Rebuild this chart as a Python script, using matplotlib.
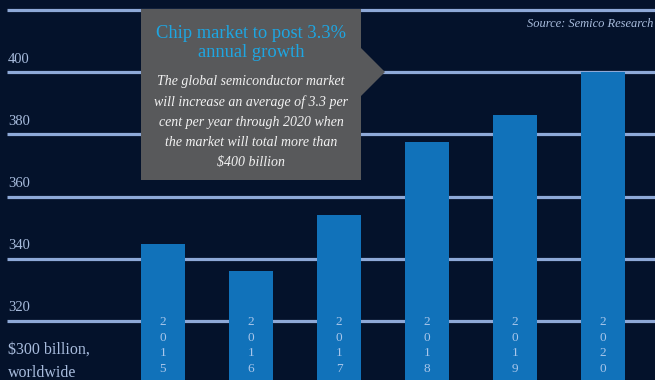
import matplotlib
matplotlib.use("Agg")
import matplotlib.pyplot as plt
from matplotlib.patches import Polygon

years = ["2015", "2016", "2017", "2018", "2019", "2020"]
market = [344.7, 336.0, 354.0, 377.5, 386.2, 400.1]  # $ billion
grid_levels = [320, 340, 360, 380, 400, 420]
tick_labels = ["320", "340", "360", "380", "400"]

bg = "#04122b"
bar_col = "#1172ba"
grid_col = "#8ea9d8"
label_col = "#a8bcdd"

W, H = 655, 380
fig = plt.figure(figsize=(W / 100, H / 100), dpi=100, facecolor=bg)
ax = fig.add_axes([0, 0, 1, 1])
ax.set_facecolor(bg)
ax.axis("off")

# px -> data mapping: bar centres every 88 px starting at 163 px
x0, step = 163, 88
ax.set_xlim(-x0 / step, (W - x0) / step)
ax.set_ylim(300 + (382.8 - H) / 3.105, 300 + 382.8 / 3.105)

fx = lambda px: px / W
fy = lambda py: 1 - py / H

# grid lines
for g in grid_levels:
    ax.plot([(7 - x0) / step, (W - x0) / step], [g, g], color=grid_col, lw=2.3, zorder=1,
            solid_capstyle="butt")

ax.bar(range(len(years)), [m - 300 for m in market], bottom=300, width=0.5,
       color=bar_col, zorder=2)

serif = ["Liberation Serif", "DejaVu Serif"]

for lab in tick_labels:
    ax.text(fx(8), float(lab) + 2, lab, transform=ax.get_yaxis_transform(),
            color=label_col, fontsize=10.5, family=serif, va="bottom", ha="left")

ax.text(fx(8), fy(342), "$300 billion,\nworldwide", transform=ax.transAxes,
        color=label_col, fontsize=11.5, family=serif, va="top", ha="left",
        linespacing=1.55)

for i, y in enumerate(years):
    ax.text(i, 321.5, "\n".join(y), color="#a9c6ea", fontsize=9.5, family=serif,
            ha="center", va="top", linespacing=1.4, zorder=3)

ax.text(fx(653), fy(24), "Source: Semico Research", transform=ax.transAxes,
        color=label_col, fontsize=9, family=serif, style="italic",
        ha="right", va="center")

# callout box with pointer
box = [(141, 9), (361, 9), (361, 48), (385, 72), (361, 96), (361, 180), (141, 180)]
ax.add_patch(Polygon([(fx(a), fy(b)) for a, b in box], closed=True,
                     transform=ax.transAxes, facecolor="#58595b", edgecolor="none",
                     zorder=4))
ax.text(fx(251), fy(43), "Chip market to post 3.3%\nannual growth", transform=ax.transAxes,
        color="#1ea6e2", fontsize=13.3, family=serif, ha="center", va="center",
        linespacing=1.2, zorder=5)
ax.text(fx(251), fy(122),
        "The global semiconductor market\nwill increase an average of 3.3 per\n"
        "cent per year through 2020 when\nthe market will total more than\n$400 billion",
        transform=ax.transAxes, color="#f2f2f2", fontsize=10, family=serif,
        style="italic", ha="center", va="center", linespacing=1.7, zorder=5)

fig.savefig("out.png", dpi=100, facecolor=bg)
